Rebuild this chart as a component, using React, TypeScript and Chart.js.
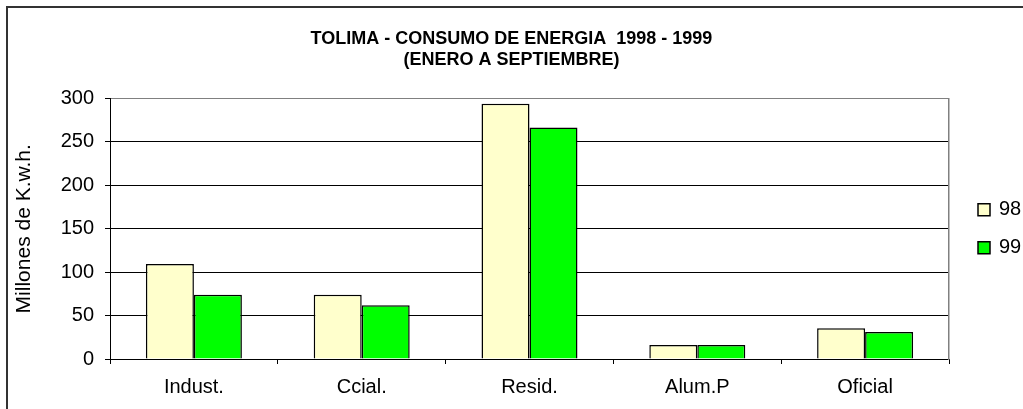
import React, { useEffect, useRef } from 'react';
import { Chart, registerables } from 'chart.js';

Chart.register(...registerables);

const categories = ['Indust.', 'Ccial.', 'Resid.', 'Alum.P', 'Oficial'];
const series98 = [109.5, 74, 294, 16, 35.5];
const series99 = [74, 62, 266.5, 16, 31];
const seriesLabels = ['98', '99'];
const seriesColors = ['#FFFFCC', '#00FF00'];
const titleLines = ['TOLIMA - CONSUMO DE ENERGIA  1998 - 1999', '(ENERO A SEPTIEMBRE)'];
const yAxisTitle = 'Millones de K.w.h.';
const yTicks = [0, 50, 100, 150, 200, 250, 300];

const FONT = "'Liberation Sans', Arial, sans-serif";

export default function App() {
  const ref = useRef<HTMLCanvasElement>(null);

  useEffect(() => {
    if (!ref.current) return;

    const framePlugin = {
      id: 'outerFrame',
      beforeDraw(chart: any) {
        const ctx = chart.ctx;
        ctx.save();
        ctx.strokeStyle = '#333333';
        ctx.lineWidth = 2;
        ctx.beginPath();
        ctx.moveTo(7, chart.height);
        ctx.lineTo(7, 7);
        ctx.lineTo(chart.width, 7);
        ctx.stroke();
        ctx.restore();
      },
    };

    const sideLegend = {
      id: 'sideLegend',
      afterDraw(chart: any) {
        const ctx = chart.ctx;
        const area = chart.chartArea;
        const cy = (area.top + area.bottom) / 2;
        const n = chart.data.datasets.length;
        const spacing = 38;
        ctx.save();
        chart.data.datasets.forEach((ds: any, i: number) => {
          const y = cy + (i - (n - 1) / 2) * spacing;
          const x = area.right + 29;
          ctx.fillStyle = ds.backgroundColor;
          ctx.fillRect(x, y - 6, 12, 12);
          ctx.strokeStyle = '#000';
          ctx.lineWidth = 1.5;
          ctx.strokeRect(x, y - 6, 12, 12);
          ctx.fillStyle = '#000';
          ctx.font = `20px ${FONT}`;
          ctx.textBaseline = 'middle';
          ctx.textAlign = 'left';
          ctx.fillText(ds.label, x + 21, y);
        });
        ctx.restore();
      },
    };

    const chart = new Chart(ref.current, {
      type: 'bar',
      data: {
        labels: categories,
        datasets: [
          {
            label: seriesLabels[0],
            data: series98,
            backgroundColor: seriesColors[0],
            borderColor: '#000',
            borderWidth: 1.5,
            categoryPercentage: 0.572,
            barPercentage: 1,
          },
          {
            label: seriesLabels[1],
            data: series99,
            backgroundColor: seriesColors[1],
            borderColor: '#000',
            borderWidth: 1.5,
            categoryPercentage: 0.572,
            barPercentage: 1,
          },
        ],
      },
      options: {
        responsive: false,
        animation: false,
        devicePixelRatio: 1,
        layout: { padding: 0 },
        font: { family: FONT },
        plugins: {
          legend: { display: false },
          tooltip: { enabled: false },
          title: {
            display: true,
            text: titleLines,
            color: '#000',
            font: { family: FONT, size: 18, weight: 'bold', lineHeight: 1.1667 },
            padding: { top: 28.5, bottom: 28 },
          },
        },
        scales: {
          x: {
            ticks: { padding: 11, color: '#000', font: { family: FONT, size: 20 } },
            grid: {
              drawOnChartArea: false,
              drawTicks: true,
              tickLength: 5,
              tickColor: '#000',
              offset: true,
            },
            border: { display: true, color: '#000', width: 1 },
            afterFit: (s: any) => {
              s.height = 50;
            },
          },
          y: {
            min: 0,
            max: 300,
            ticks: { stepSize: 50, padding: 11, color: '#000', font: { family: FONT, size: 20 } },
            afterBuildTicks: (s: any) => {
              s.ticks = yTicks.map((v) => ({ value: v }));
            },
            grid: {
              color: (c: any) => (c.tick && c.tick.value === 300 ? '#808080' : '#000'),
              tickColor: '#000',
              tickLength: 5,
              lineWidth: 1,
            },
            border: { display: true, color: '#000', width: 1 },
            title: {
              display: true,
              text: yAxisTitle,
              color: '#000',
              font: { family: FONT, size: 21 },
              padding: { top: 12, bottom: 0 },
            },
            afterFit: (s: any) => {
              s.width = 110;
            },
          },
          yR: {
            position: 'right',
            display: true,
            grid: { display: false, drawTicks: false },
            ticks: { display: false },
            border: { display: true, color: '#808080', width: 1.5 },
            afterFit: (s: any) => {
              s.width = 74;
            },
          },
        },
      },
      plugins: [framePlugin, sideLegend],
    } as any);

    return () => chart.destroy();
  }, []);

  return (
    <div style={{ position: 'absolute', left: 0, top: 0 }}>
      <canvas ref={ref} width={1023} height={409} style={{ display: 'block' }} />
    </div>
  );
}
